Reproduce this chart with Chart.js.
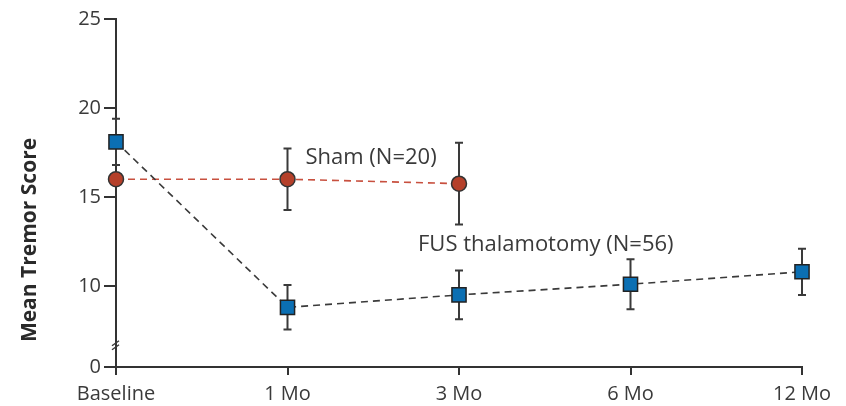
<!DOCTYPE html>
<html>
<head>
<meta charset="utf-8">
<script src="https://cdn.jsdelivr.net/npm/chart.js@4"></script>
<style>
  html, body { margin: 0; background: #fff; }
  #wrap { width: 846px; height: 406px; }
</style>
</head>
<body>
<div id="wrap"><canvas id="grafica"></canvas></div>
<script>
// datos
const etiquetas = ['Baseline', '1 Mo', '3 Mo', '6 Mo', '12 Mo'];
const fusMedia = [18.1, 8.8, 9.5, 10.1, 10.8];
const fusError = [1.3, 1.25, 1.37, 1.4, 1.3];
const shamMedia = [16.0, 16.0, 15.75, null, null];
const shamError = [0.3, 1.73, 2.3, null, null];
const ticksY = [0, 10, 15, 20, 25];
const corteEje = 5.45; // el "0" se dibuja aquí (eje cortado)

const colorTexto = '#3a3a3a';
const fuente = '"Open Sans", "Noto Sans", sans-serif';

// barras de error, antes de los puntos
const barrasError = {
  id: 'barrasError',
  beforeDatasetsDraw(chart) {
    const ctx = chart.ctx;
    const y = chart.scales.y;
    const errores = [fusError, shamError];
    chart.data.datasets.forEach((ds, i) => {
      const meta = chart.getDatasetMeta(i);
      meta.data.forEach((pt, j) => {
        const m = ds.data[j], e = errores[i][j];
        if (m == null || e == null) return;
        const y1 = y.getPixelForValue(m + e), y2 = y.getPixelForValue(m - e);
        ctx.save();
        ctx.strokeStyle = '#3a3a3a';
        ctx.lineWidth = 2;
        ctx.beginPath();
        ctx.moveTo(pt.x, y1); ctx.lineTo(pt.x, y2);
        ctx.moveTo(pt.x - 4, y1); ctx.lineTo(pt.x + 4, y1);
        ctx.moveTo(pt.x - 4, y2); ctx.lineTo(pt.x + 4, y2);
        ctx.stroke();
        ctx.restore();
      });
    });
  }
};

// textos, título del eje y marca de corte
const textos = {
  id: 'textos',
  afterDraw(chart) {
    const ctx = chart.ctx;
    const x = chart.scales.x, y = chart.scales.y;
    ctx.save();
    ctx.fillStyle = colorTexto;
    ctx.font = '22px ' + fuente;
    ctx.textBaseline = 'middle';
    ctx.textAlign = 'left';
    ctx.fillText('Sham (N=20)', x.getPixelForValue(1) + 18, y.getPixelForValue(17.2));
    ctx.fillText('FUS thalamotomy (N=56)', x.getPixelForValue(2) - 41, y.getPixelForValue(12.3));

    // título eje y
    ctx.save();
    ctx.translate(30, 240);
    ctx.rotate(-Math.PI / 2);
    ctx.textAlign = 'center';
    ctx.font = 'bold 21px ' + fuente;
    ctx.fillStyle = '#2a2a2a';
    ctx.fillText('Mean Tremor Score', 0, 0);
    ctx.restore();

    // marca de corte //
    const yc = y.getPixelForValue(6.7);
    const xa = x.left;
    ctx.strokeStyle = colorTexto;
    ctx.lineWidth = 1.5;
    ctx.beginPath();
    ctx.moveTo(xa - 4, yc + 1); ctx.lineTo(xa + 3, yc - 4);
    ctx.moveTo(xa - 4, yc + 5); ctx.lineTo(xa + 3, yc);
    ctx.stroke();
    ctx.restore();
  }
};

new Chart(document.getElementById('grafica'), {
  type: 'line',
  data: {
    labels: etiquetas,
    datasets: [{
      label: 'FUS thalamotomy',
      data: fusMedia,
      borderColor: '#3a3a3a',
      borderWidth: 1.6,
      borderDash: [7, 5],
      pointStyle: 'rect',
      pointRadius: 10,
      pointBackgroundColor: '#0b6fb3',
      pointBorderColor: '#222',
      pointBorderWidth: 1.5
    }, {
      label: 'Sham',
      data: shamMedia,
      borderColor: '#c8503f',
      borderWidth: 1.6,
      borderDash: [7, 5],
      pointStyle: 'circle',
      pointRadius: 7.5,
      pointBackgroundColor: '#b5402a',
      pointBorderColor: '#333',
      pointBorderWidth: 1.5
    }]
  },
  options: {
    responsive: true,
    maintainAspectRatio: false,
    animation: false,
    layout: { padding: { top: 19, right: 44, left: 0, bottom: 0 } },
    plugins: { legend: { display: false }, tooltip: { enabled: false } },
    scales: {
      x: {
        type: 'category',
        offset: false,
        grid: { offset: false, drawOnChartArea: false, tickLength: 8, color: '#333', lineWidth: 2 },
        border: { color: '#333', width: 2 },
        ticks: { color: colorTexto, font: { size: 20, family: fuente }, padding: 7, maxRotation: 0 },
        afterFit: s => { s.height = 39; }
      },
      y: {
        min: corteEje,
        max: 25,
        afterBuildTicks: s => { s.ticks = ticksY.map(v => ({ value: v === 0 ? corteEje : v })); },
        grid: { drawOnChartArea: false, tickLength: 12, color: '#333', lineWidth: 2 },
        border: { color: '#333', width: 2 },
        ticks: {
          color: colorTexto,
          font: { size: 20, family: fuente },
          padding: 3,
          callback: v => (v === corteEje ? '0' : v)
        },
        afterFit: s => { s.width = 116; }
      }
    }
  },
  plugins: [barrasError, textos]
});
</script>
</body>
</html>
